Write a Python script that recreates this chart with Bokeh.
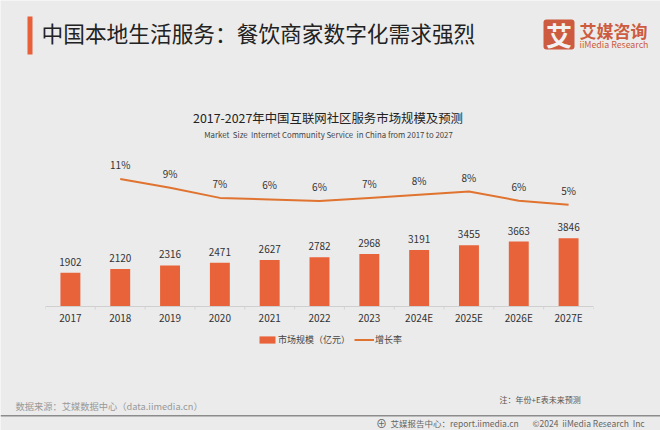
from bokeh.plotting import figure
from bokeh.models import Range1d, FactorRange, Legend, LegendItem, ColumnDataSource
from bokeh.core.properties import value
from bokeh.embed import file_html
from bokeh.resources import INLINE

categories = ["2017", "2018", "2019", "2020", "2021", "2022", "2023", "2024E", "2025E", "2026E", "2027E"]
market_size = [1902, 2120, 2316, 2471, 2627, 2782, 2968, 3191, 3455, 3663, 3846]
growth_categories = categories[1:]
growth_rate = [11.46, 9.25, 6.7, 6.3, 5.9, 6.7, 7.5, 8.3, 6.0, 5.0]
growth_labels = ["11%", "9%", "7%", "6%", "6%", "7%", "8%", "8%", "6%", "5%"]

FONT = "Noto Sans CJK SC"
BG = "#ebebeb"
BAR = "#e8633a"
LINE = "#e0732f"
NAN = float("nan")

# ---- page furniture: a full-window figure whose data units are pixels
bg = figure(width=660, height=430, output_backend="svg", toolbar_location=None,
            x_range=Range1d(0, 660), y_range=Range1d(430, 0),
            background_fill_color=BG, border_fill_color=BG, outline_line_color=None,
            min_border=0, x_axis_type=None, y_axis_type=None)
bg.styles = {"position": "absolute", "left": "0px", "top": "0px"}
bg.grid.visible = False


def txt(t, x, y, size, color, align="left", weight="normal"):
    bg.text(x=[x], y=[y], text=[t], text_font=value(FONT), text_font_size=f"{size}px",
            text_color=color, text_align=align, text_baseline="middle", text_font_style=weight)


def box(l, r, t, b, color, radius=0):
    bg.quad(left=[l], right=[r], top=[t], bottom=[b], fill_color=color, line_color=None,
            border_radius=radius)


box(27, 32, 16, 54, "#e8603a")
txt("中国本地生活服务：餐饮商家数字化需求强烈", 41, 32, 21.7, "#222222")

box(543, 574, 19, 49, "#cd5b40", 3)
txt("艾", 558.5, 34, 26, "#f2f2f2", "center", "bold")
txt("艾媒咨询", 579, 30, 17, "#cd5b40", "left", "bold")
txt("iiMedia Research", 579, 43.5, 8.8, "#cd5b40")

txt("2017-2027年中国互联网社区服务市场规模及预测", 327.5, 117, 12.4, "#222222", "center")
txt("Market\u00a0\u00a0Size\u00a0\u00a0Internet Community Service\u00a0\u00a0in China from 2017 to 2027",
    328, 134, 7.8, "#444444", "center")

txt("注：年份+E表未来预测", 499, 399, 8, "#555555")
txt("数据来源：艾媒数据中心（data.iimedia.cn）", 15, 405, 9.25, "#999999")
box(0, 660, 414.5, 416, "#8c8c8c")
txt("⊕", 381, 422, 11, "#666666", "center")
txt("艾媒报告中心：report.iimedia.cn", 390, 422, 8.5, "#666666")
txt("©2024\u00a0\u00a0iiMedia Research\u00a0\u00a0Inc", 532, 422, 8.5, "#666666")

# legend keys (empty points: they only feed the legend)
key_bar = bg.quad(left=[NAN], right=[NAN], top=[NAN], bottom=[NAN], fill_color=BAR, line_color=None)
key_line = bg.line(x=[NAN], y=[NAN], line_color=LINE, line_width=2)
legend = Legend(items=[LegendItem(label="市场规模（亿元）", renderers=[key_bar]),
                       LegendItem(label="增长率", renderers=[key_line])],
                orientation="horizontal", location=(257, 84),
                background_fill_alpha=0, border_line_color=None,
                label_text_font=FONT, label_text_font_size="9px", label_text_color="#444444",
                glyph_width=20, glyph_height=9, spacing=4, label_standoff=1,
                padding=0, margin=0)
bg.add_layout(legend, "center")

# ---- the chart, laid over it with a transparent background
p = figure(width=660, height=430, output_backend="svg", toolbar_location=None,
           x_range=FactorRange(factors=categories, range_padding=0, factor_padding=0),
           y_range=Range1d(-1128, 8799),
           background_fill_color=None, border_fill_color=None, outline_line_color=None,
           min_border_left=45, min_border_right=67, min_border_top=150, min_border_bottom=104)
p.styles = {"position": "absolute", "left": "0px", "top": "0px"}
p.extra_y_ranges = {"rate": Range1d(-25.6, 18.6)}
p.grid.visible = False
p.yaxis.visible = False

ax = p.xaxis[0]
ax.fixed_location = 0
ax.axis_line_color = "#cfcfcf"
ax.axis_line_width = 1
ax.major_tick_line_color = None
ax.minor_tick_line_color = None
ax.major_tick_out = 0
ax.major_tick_in = 0
ax.major_label_text_font = FONT
ax.major_label_text_font_size = "10px"
ax.major_label_text_color = "#333333"
ax.major_label_standoff = 3

edges = [(c, -0.5) for c in categories] + [(categories[-1], 0.5)]
p.segment(x0=edges, x1=edges, y0=[0] * len(edges), y1=[-170] * len(edges),
          line_color="#d4d4d4", line_width=1)

src_bar = ColumnDataSource(dict(x=categories, top=market_size, label=[str(v) for v in market_size]))
bars = p.vbar(x="x", top="top", bottom=0, width=0.4, source=src_bar, fill_color=BAR, line_color=None)
p.text(x="x", y="top", text="label", source=src_bar, y_offset=-7,
       text_font=value(FONT), text_font_size="10px", text_color="#333333",
       text_align="center", text_baseline="bottom")

src_line = ColumnDataSource(dict(x=growth_categories, y=growth_rate, label=growth_labels))
ln = p.line(x="x", y="y", source=src_line, y_range_name="rate", line_color=LINE, line_width=2)
p.text(x="x", y="y", text="label", source=src_line, y_range_name="rate", y_offset=-7,
       text_font=value(FONT), text_font_size="10px", text_color="#333333",
       text_align="center", text_baseline="bottom")

open("out.html", "w").write(file_html([bg, p], INLINE))
